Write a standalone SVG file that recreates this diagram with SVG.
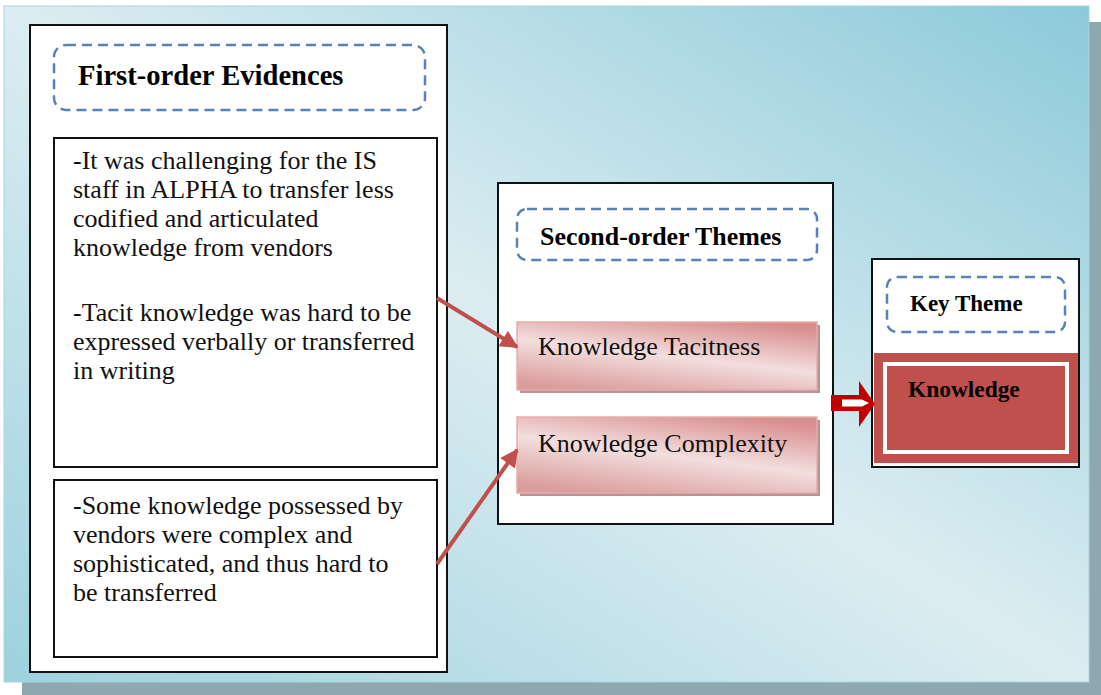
<svg xmlns="http://www.w3.org/2000/svg" width="1101" height="695" viewBox="0 0 1101 695">
  <style>
    .frame { fill: #ffffff; stroke: #111111; stroke-width: 2; }
    .dash { fill: #ffffff; stroke: #5a82b6; stroke-width: 2.5; stroke-dasharray: 10 6; }
    .title { font-family: "Liberation Serif", "Times New Roman", serif; font-weight: bold; fill: #000000; }
    .body { font-family: "Liberation Serif", "Times New Roman", serif; font-size: 26px; fill: #111111; }
    .theme { fill: url(#pink); stroke: #e3aeac; stroke-width: 1.5; }
    .theme-shadow { fill: #b99294; }
    .link { stroke: #c0504d; stroke-width: 4; fill: none; marker-end: url(#head); }
  </style>
  <defs>
    <linearGradient id="panel" x1="1" y1="0" x2="0" y2="1">
      <stop offset="0" stop-color="#8ccad9"/>
      <stop offset="0.5" stop-color="#dcedf2"/>
      <stop offset="1" stop-color="#9dd1de"/>
    </linearGradient>
    <linearGradient id="pink" x1="0.75" y1="0" x2="0.25" y2="1">
      <stop offset="0" stop-color="#d98f8f"/>
      <stop offset="0.5" stop-color="#f3dede"/>
      <stop offset="1" stop-color="#dc9d9d"/>
    </linearGradient>
    <marker id="head" viewBox="0 0 10 10" refX="9" refY="5" markerWidth="5" markerHeight="4.5" markerUnits="strokeWidth" orient="auto">
      <path d="M0,0 L10,5 L0,10 Z" fill="#c0504d"/>
    </marker>
  </defs>

  <!-- backdrop panel with drop shadow -->
  <rect x="22" y="22" width="1079" height="673" fill="#8ea8b0"/>
  <rect x="4" y="6" width="1085" height="676" fill="url(#panel)" stroke="#a6d4df" stroke-width="1"/>

  <!-- first-order evidences column -->
  <g id="first-order">
    <rect class="frame" x="30" y="25" width="417" height="647"/>
    <rect class="dash" x="54" y="45" width="371" height="65" rx="12"/>
    <text class="title" x="78" y="85" font-size="28.6">First-order Evidences</text>
  </g>
  <g id="evidence-1">
    <rect class="frame" x="54" y="138" width="383" height="329"/>
    <text class="body" x="73" y="169">-It was challenging for the IS</text>
    <text class="body" x="73" y="198">staff in ALPHA to transfer less</text>
    <text class="body" x="73" y="227">codified and articulated</text>
    <text class="body" x="73" y="256">knowledge from vendors</text>
    <text class="body" x="73" y="321">-Tacit knowledge was hard to be</text>
    <text class="body" x="73" y="350">expressed verbally or transferred</text>
    <text class="body" x="73" y="379">in writing</text>
  </g>
  <g id="evidence-2">
    <rect class="frame" x="54" y="480" width="383" height="177"/>
    <text class="body" x="73" y="514">-Some knowledge possessed by</text>
    <text class="body" x="73" y="543">vendors were complex and</text>
    <text class="body" x="73" y="572">sophisticated, and thus hard to</text>
    <text class="body" x="73" y="601">be transferred</text>
  </g>

  <!-- second-order themes column -->
  <g id="second-order">
    <rect class="frame" x="498" y="183" width="335" height="341"/>
    <rect class="dash" x="517" y="209" width="300" height="51" rx="10"/>
    <text class="title" x="540" y="245" font-size="25.9">Second-order Themes</text>
  </g>
  <g id="tacitness">
    <rect class="theme-shadow" x="520" y="325" width="300" height="68"/>
    <rect class="theme" x="517" y="322" width="300" height="68"/>
    <text class="body" x="538" y="355">Knowledge Tacitness</text>
  </g>
  <g id="complexity">
    <rect class="theme-shadow" x="520" y="420" width="300" height="76"/>
    <rect class="theme" x="517" y="417" width="300" height="76"/>
    <text class="body" x="538" y="452">Knowledge Complexity</text>
  </g>

  <!-- key theme column -->
  <g id="key-theme">
    <rect class="frame" x="872" y="259" width="207" height="208"/>
    <rect class="dash" x="887" y="277" width="178" height="55" rx="10"/>
    <text class="title" x="910" y="311" font-size="23">Key Theme</text>
  </g>
  <g id="knowledge">
    <rect x="874" y="353" width="204" height="110" fill="#c0504d"/>
    <rect x="885" y="364" width="182" height="88" fill="none" stroke="#ffffff" stroke-width="4"/>
    <text class="title" x="908" y="397" font-size="23.4">Knowledge</text>
  </g>

  <!-- connectors -->
  <g id="connectors">
    <line class="link" x1="437" y1="298" x2="517" y2="347"/>
    <line class="link" x1="437" y1="564" x2="517" y2="450"/>
    <polygon points="831,395 859,395 859,381 875,404 859,427 859,411 831,411" fill="#c00000"/>
    <polygon points="842,399.5 862,399.5 869,403 862,406.5 842,406.5" fill="#ffffff"/>
  </g>
</svg>
